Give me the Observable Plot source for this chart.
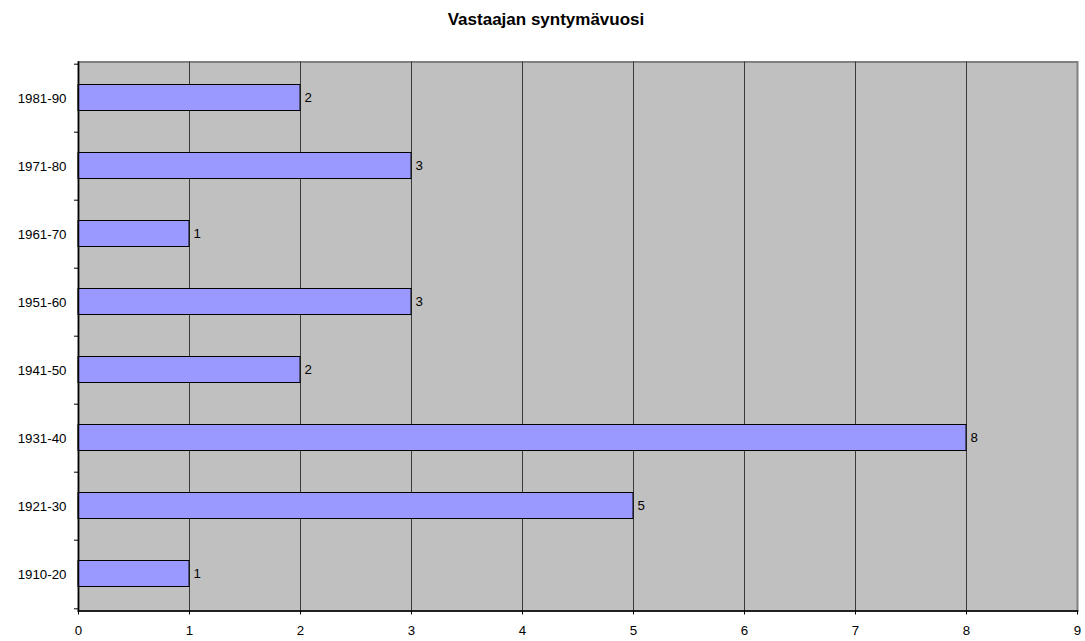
<!DOCTYPE html>
<html>
<head>
<meta charset="utf-8">
<script src="https://cdn.jsdelivr.net/npm/d3@7"></script>
<script src="https://cdn.jsdelivr.net/npm/@observablehq/plot@0.6"></script>
<style>
  html, body { margin: 0; padding: 0; background: #fff; }
  #title { height: 40px; line-height: 40px; text-align: center; padding-left: 7px;
           font-family: "Liberation Sans", Arial, sans-serif; font-weight: bold; font-size: 17px; color: #000; box-sizing: border-box; }
  #chart svg { display: block; }
</style>
</head>
<body>
<div id="title">Vastaajan syntymävuosi</div>
<div id="chart"></div>
<script>
const categories = ["1910-20", "1921-30", "1931-40", "1941-50", "1951-60", "1961-70", "1971-80", "1981-90"];
const counts = [1, 5, 8, 2, 3, 1, 3, 2];
const xTicks = [0, 1, 2, 3, 4, 5, 6, 7, 8, 9];

const data = categories.map((c, i) => ({cat: c, n: counts[i]}));
const yDomain = categories.slice().reverse();
const step = (601 - 21.5 - 30.5) / categories.length;

const chart = Plot.plot({
  width: 1085,
  height: 601,
  marginTop: 21.5,
  marginBottom: 30.5,
  marginLeft: 78,
  marginRight: 8,
  style: {fontFamily: "Liberation Sans, Arial, sans-serif", fontSize: "13.3px", color: "#000", background: "#fff"},
  x: {domain: [0, 9]},
  y: {domain: yDomain, padding: 0},
  marks: [
    Plot.frame({fill: "#c0c0c0", stroke: "#808080", strokeWidth: 2}),
    Plot.ruleX(xTicks.slice(1, -1), {stroke: "#3a3a3a", strokeWidth: 1}),
    Plot.barX(data, {y: "cat", x: "n", fill: "#9999ff", stroke: "#000", strokeWidth: 1, insetTop: 20.5, insetBottom: 21.5}),
    Plot.text(data, {y: "cat", x: "n", text: d => String(d.n), textAnchor: "start", dx: 4, dy: -1, fill: "#000", fontSize: 13.3}),
    Plot.frame({anchor: "left", stroke: "#000", strokeWidth: 1.5}),
    Plot.frame({anchor: "bottom", stroke: "#000", strokeWidth: 1.5}),
    Plot.axisX({ticks: xTicks, tickSize: 4, tickPadding: 11, tickFormat: d => String(d), fontSize: 13.3, label: null}),
    Plot.axisY({tickSize: 0, tickPadding: 12, fontSize: 13.3, label: null}),
    Plot.axisY({tickSize: 4, text: null, dy: -step / 2, label: null}),
    Plot.axisY({ticks: ["1910-20"], tickSize: 4, text: null, dy: step / 2, label: null})
  ]
});
document.getElementById("chart").appendChild(chart);
</script>
</body>
</html>
